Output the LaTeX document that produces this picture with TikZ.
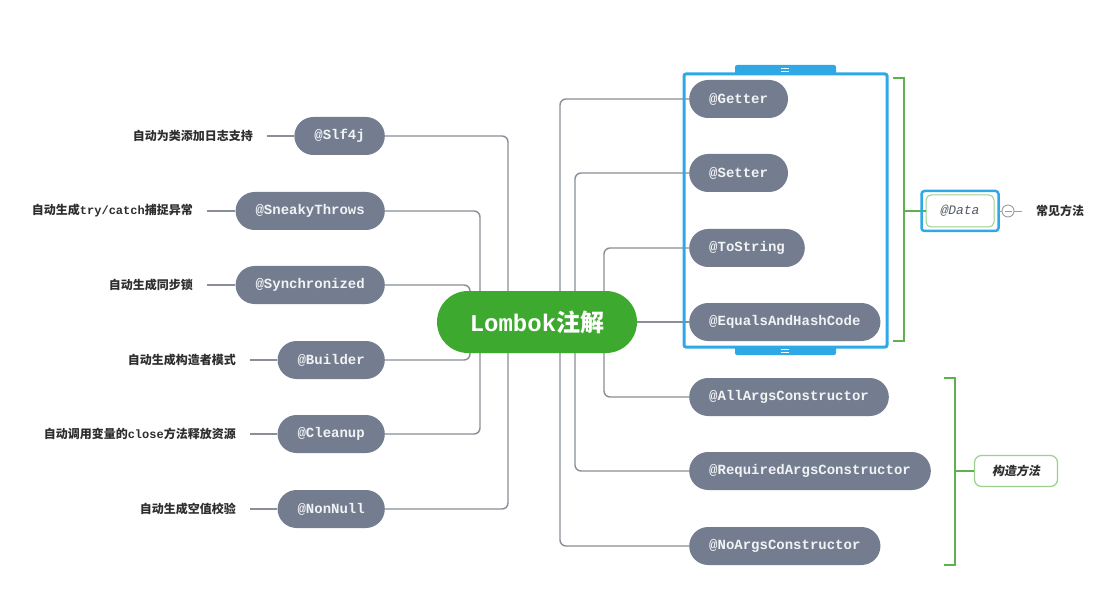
\documentclass[tikz,border=0pt]{standalone}
\usepackage{fontspec}
\setmonofont{Liberation Mono}
\newfontfamily\cjk{Noto Sans CJK SC}
\newfontfamily\cjkslant{Noto Sans CJK SC}[FakeSlant=0.18]
\usepackage{tikz}
\usetikzlibrary{positioning,backgrounds}
\definecolor{rootgreen}{HTML}{3DA92F}
\definecolor{tagfill}{HTML}{737D8F}
\definecolor{tagtext}{HTML}{F2F3F5}
\definecolor{linkgray}{HTML}{8A8E96}
\definecolor{desctext}{HTML}{2E2E2E}
\definecolor{bracegreen}{HTML}{5EB14E}
\definecolor{softgreen}{HTML}{9CCF8E}
\definecolor{selblue}{HTML}{2FA9E6}
\definecolor{foldgray}{HTML}{9A9DA3}
\definecolor{datatext}{HTML}{555A62}
\tikzset{
  root/.style={fill=rootgreen,text=white,font=\fontsize{24}{28}\selectfont\ttfamily\bfseries,
    minimum width=200pt,minimum height=62pt,rounded corners=31pt},
  tag/.style={fill=tagfill,text=tagtext,font=\fontsize{14}{16}\selectfont\ttfamily\bfseries,
    minimum height=38pt,inner xsep=20pt,inner ysep=0pt,rounded corners=19pt},
  desc/.style={font=\fontsize{12}{14}\selectfont\cjk\bfseries,text=desctext,inner sep=0pt},
  link/.style={draw=linkgray,line width=1.4pt,rounded corners=6pt},
  brace/.style={draw=bracegreen,line width=1.6pt},
  sel/.style={draw=selblue,line width=3pt,rounded corners=2pt},
  datanode/.style={draw=softgreen,line width=1pt,fill=white,rounded corners=5pt,minimum width=68pt,
    minimum height=32pt,font=\fontsize{13}{15}\selectfont\ttfamily\itshape,text=datatext},
  group/.style={draw=softgreen,line width=1.2pt,fill=white,rounded corners=7pt,minimum width=83pt,
    minimum height=31pt,font=\fontsize{12}{14}\selectfont\cjkslant\bfseries,text=desctext},
  fold/.style={circle,draw=foldgray,line width=.9pt,minimum size=12pt,inner sep=0pt}
}
\begin{document}
\begin{tikzpicture}[x=1pt,y=-1pt]
  \node[root] (lombok) at (537,322) {Lombok{\cjk 注解}};
  % left side
  \node[tag,anchor=east] (slf4j) at (385,136) {@Slf4j};
  \node[tag,anchor=east] (sneaky) at (385,211) {@SneakyThrows};
  \node[tag,anchor=east] (sync) at (385,285) {@Synchronized};
  \node[tag,anchor=east] (builder) at (385,360) {@Builder};
  \node[tag,anchor=east] (cleanup) at (385,434) {@Cleanup};
  \node[tag,anchor=east] (nonnull) at (385,509) {@NonNull};
  \node[desc,anchor=east] (d-slf4j) at (253,136) {自动为类添加日志支持};
  \node[desc,anchor=east] (d-sneaky) at (193,211) {自动生成{\ttfamily try/catch}捕捉异常};
  \node[desc,anchor=east] (d-sync) at (193,285) {自动生成同步锁};
  \node[desc,anchor=east] (d-builder) at (236,360) {自动生成构造者模式};
  \node[desc,anchor=east] (d-cleanup) at (236,434) {自动调用变量的{\ttfamily close}方法释放资源};
  \node[desc,anchor=east] (d-nonnull) at (236,509) {自动生成空值校验};
  \foreach \n in {slf4j,sneaky,sync,builder,cleanup,nonnull}
    \draw[link,shorten <=14pt] (d-\n.east) -- (\n.west);
  % right side
  \node[tag,anchor=west] (getter) at (689,99) {@Getter};
  \node[tag,anchor=west] (setter) at (689,173) {@Setter};
  \node[tag,anchor=west] (tostring) at (689,248) {@ToString};
  \node[tag,anchor=west] (equals) at (689,322) {@EqualsAndHashCode};
  \node[tag,anchor=west] (allargs) at (689,397) {@AllArgsConstructor};
  \node[tag,anchor=west] (reqargs) at (689,471) {@RequiredArgsConstructor};
  \node[tag,anchor=west] (noargs) at (689,546) {@NoArgsConstructor};
  \begin{scope}[on background layer]
    \fill[white] (0,0) rectangle (1106,604);
    \draw[link] (slf4j.east) -| ([xshift=-29pt]lombok.center);
    \draw[link] (sneaky.east) -| ([xshift=-57pt]lombok.center);
    \draw[link] (sync.east) -| ([xshift=-67pt]lombok.center);
    \draw[link] (builder.east) -| ([xshift=-67pt]lombok.center);
    \draw[link] (cleanup.east) -| ([xshift=-57pt]lombok.center);
    \draw[link] (nonnull.east) -| ([xshift=-29pt]lombok.center);
    \draw[link] (getter.west) -| ([xshift=23pt]lombok.center);
    \draw[link] (setter.west) -| ([xshift=38pt]lombok.center);
    \draw[link] (tostring.west) -| ([xshift=67pt]lombok.center);
    \draw[link] (lombok.east) -- (equals.west);
    \draw[link] (allargs.west) -| ([xshift=67pt]lombok.center);
    \draw[link] (reqargs.west) -| ([xshift=38pt]lombok.center);
    \draw[link] (noargs.west) -| ([xshift=23pt]lombok.center);
  \end{scope}
  % selection frame
  \draw[sel] (684,74) rectangle (887,347);
  \fill[selblue,rounded corners=2pt] (735,65) rectangle (836,75);
  \fill[selblue,rounded corners=2pt] (735,346) rectangle (836,355);
  \draw[white,line width=.8pt] (781,68.5) -- (789,68.5) (781,71.5) -- (789,71.5)
    (781,349.5) -- (789,349.5) (781,352.5) -- (789,352.5);
  % brackets
  \node[datanode] (data) at (960,211) {@Data};
  \draw[brace] (893,78) -- (904,78) -- (904,341) -- (893,341);
  \draw[brace] (904,211) -- (data.west);
  \draw[selblue,line width=2.5pt,rounded corners=3pt]
    ([xshift=-4pt,yshift=3.5pt]data.north west) rectangle ([xshift=4pt,yshift=-3.5pt]data.south east);
  \node[fold] (fold) at (1008,211) {};
  \draw[foldgray,line width=.9pt] ([xshift=-3.5pt]fold.center) -- ([xshift=3.5pt]fold.center);
  \node[desc,anchor=west] (common) at (1036,211) {常见方法};
  \draw[foldgray,line width=.9pt,shorten <=4pt] (data.east) -- (fold.west);
  \draw[foldgray,line width=.9pt,shorten >=14pt] (fold.east) -- (common.west);
  \node[group] (ctor) at (1016,471) {构造方法};
  \draw[brace] (944,378) -- (955,378) -- (955,565) -- (944,565);
  \draw[brace] (955,471) -- (ctor.west);
\end{tikzpicture}
\end{document}
